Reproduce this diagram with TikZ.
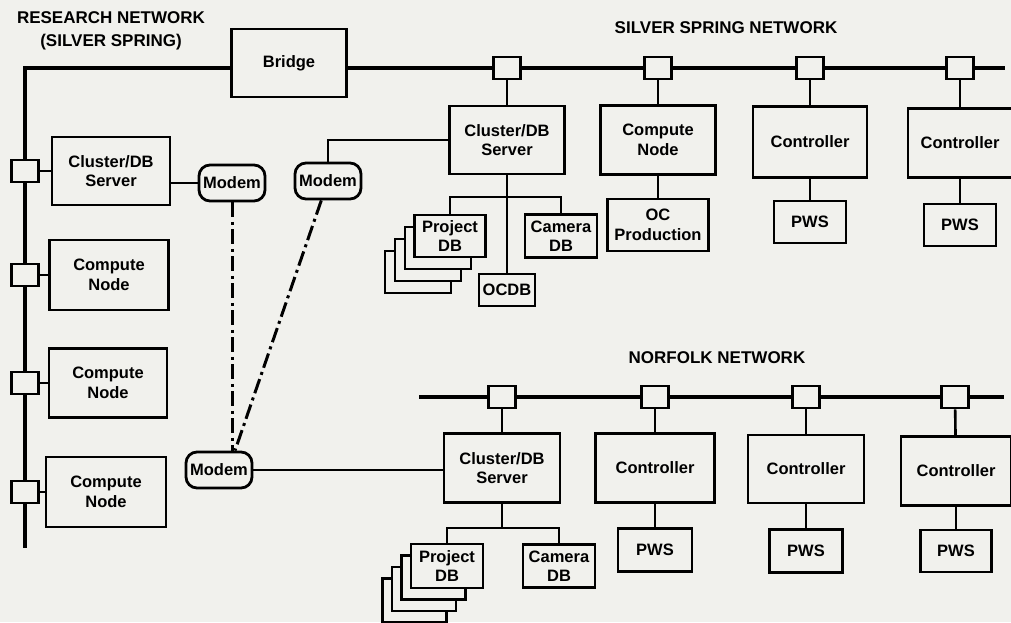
\documentclass[tikz,border=0pt]{standalone}
\usepackage{fontspec}
\setmainfont{Liberation Sans}
\definecolor{paper}{RGB}{241,241,237}
\begin{document}
\begin{tikzpicture}[x=1pt,y=-1pt,line join=miter,
  every node/.style={font=\bfseries\fontsize{16.5}{19.5}\selectfont,inner sep=2pt},
  box/.style={draw,line width=2.8pt,fill=paper,align=center},
  tap/.style={draw,line width=2.8pt,fill=paper,minimum width=27,minimum height=22},
  modem/.style={draw,line width=2.8pt,fill=paper,rounded corners=11pt,minimum width=66,minimum height=36,inner sep=1pt},
  bus/.style={line width=3.6pt},
  link/.style={line width=2.6pt},
  dial/.style={line width=3pt,dash pattern=on 15pt off 4.5pt on 3pt off 4.5pt},
  title/.style={font=\bfseries\fontsize{17}{23}\selectfont,align=center}]
  \path[use as bounding box,fill=paper] (0,0) rectangle (1011,622);
  % research network
  \node[title] (rtitle) at (111,31) {RESEARCH NETWORK\\(SILVER SPRING)};
  \node[box,minimum width=115,minimum height=68] (bridge) at (289,63) {Bridge};
  \coordinate (rtop) at (25,68);
  \coordinate (rbot) at (25,548);
  \node[tap] (rt1) at (25,171) {};
  \node[tap] (rt2) at (25,275) {};
  \node[tap] (rt3) at (25,383) {};
  \node[tap] (rt4) at (25,492) {};
  \draw[bus] (bridge.west |- rtop) -- (rtop) -- (rt1) -- (rt2) -- (rt3) -- (rt4) -- (rbot);
  \node[box,minimum width=118,minimum height=68] (rcl) at (111,171) {Cluster/DB\\Server};
  \node[box,minimum width=119,minimum height=70] (rcn1) at (109,275) {Compute\\Node};
  \node[box,minimum width=118,minimum height=69] (rcn2) at (108,383) {Compute\\Node};
  \node[box,minimum width=120,minimum height=70] (rcn3) at (106,492) {Compute\\Node};
  \draw[link] (rt1) -- (rcl);
  \draw[link] (rt2) -- (rcn1);
  \draw[link] (rt3) -- (rcn2);
  \draw[link] (rt4) -- (rcn3);
  % modems
  \node[modem] (m1) at (232,183) {Modem};
  \node[modem] (m2) at (328,181) {Modem};
  \node[modem] (m3) at (219,470) {Modem};
  \draw[link] (rcl.east |- m1) -- (m1);
  \draw[dial] (m1) -- (m1 |- m3.north);
  \draw[dial] (m2) -- ([xshift=16pt]m3.north);
  % silver spring network
  \node[title] (sstitle) at (726,28) {SILVER SPRING NETWORK};
  \coordinate (ssend) at (1005,68);
  \node[tap] (st1) at (507,68) {};
  \node[tap] (st2) at (658,68) {};
  \node[tap] (st3) at (810,68) {};
  \node[tap] (st4) at (960,68) {};
  \draw[bus] (bridge.east |- rtop) -- (st1) -- (st2) -- (st3) -- (st4) -- (ssend);
  \node[box,minimum width=115,minimum height=68] (sscl) at (507,140) {Cluster/DB\\Server};
  \node[box,minimum width=115,minimum height=69] (sscn) at (658,140) {Compute\\Node};
  \node[box,minimum width=101,minimum height=52] (ssoc) at (658,225) {OC\\Production};
  \node[box,minimum width=114,minimum height=71] (ssct1) at (810,142) {Controller};
  \node[box,minimum width=104,minimum height=69] (ssct2) at (960,143) {Controller};
  \node[box,minimum width=72,minimum height=42] (sspws1) at (810,222) {PWS};
  \node[box,minimum width=72,minimum height=42] (sspws2) at (960,225) {PWS};
  \foreach \k in {3,2,1}
    \node[box,minimum width=66,minimum height=42] (sspdb\k) at ({448-10*\k},{236+12*\k}) {};
  \node[box,minimum width=71,minimum height=42] (sspdb) at (450,236) {Project\\DB};
  \node[box,minimum width=72,minimum height=43] (sscam) at (561,236) {Camera\\DB};
  \node[box,minimum width=56,minimum height=32,inner sep=1pt] (ssocdb) at (507,290) {OCDB};
  \coordinate (ssbar) at (507,197);
  \draw[link] (st1) -- (sscl);
  \draw[link] (st2) -- (sscn);
  \draw[link] (st3) -- (ssct1);
  \draw[link] (st4) -- (ssct2);
  \draw[link] (sscn) -- (ssoc);
  \draw[link] (ssct1) -- (sspws1);
  \draw[link] (ssct2) -- (sspws2);
  \draw[link] (sscl) -- (ssocdb);
  \draw[link] (sspdb.north) |- (ssbar) -| (sscam.north);
  \draw[link] (m2) |- (sscl);
  % norfolk network
  \node[title] (nftitle) at (717,358) {NORFOLK NETWORK};
  \coordinate (nfstart) at (419,397);
  \coordinate (nfend) at (1004,397);
  \node[tap] (nt1) at (502,397) {};
  \node[tap] (nt2) at (655,397) {};
  \node[tap] (nt3) at (806,397) {};
  \node[tap] (nt4) at (955,397) {};
  \draw[bus] (nfstart) -- (nt1) -- (nt2) -- (nt3) -- (nt4) -- (nfend);
  \node[box,minimum width=116,minimum height=69] (nfcl) at (502,468) {Cluster/DB\\Server};
  \node[box,minimum width=119,minimum height=69] (nfct1) at (655,468) {Controller};
  \node[box,minimum width=116,minimum height=68] (nfct2) at (806,469) {Controller};
  \node[box,minimum width=110,minimum height=69] (nfct3) at (956,471) {Controller};
  \node[box,minimum width=74,minimum height=43] (nfpws1) at (655,550) {PWS};
  \node[box,minimum width=73,minimum height=43] (nfpws2) at (806,551) {PWS};
  \node[box,minimum width=71,minimum height=42] (nfpws3) at (956,551) {PWS};
  \foreach \k in {3,2,1}
    \node[box,minimum width=64,minimum height=44] (nfpdb\k) at ({443-9.5*\k},{566+11.5*\k}) {};
  \node[box,minimum width=72,minimum height=44] (nfpdb) at (447,566) {Project\\DB};
  \node[box,minimum width=72,minimum height=43] (nfcam) at (559,566) {Camera\\DB};
  \coordinate (nfbar) at (502,528);
  \draw[link] (nt1) -- (nfcl);
  \draw[link] (nt2) -- (nfct1);
  \draw[link] (nt3) -- (nfct2);
  \draw[link] (nt4) -- (nfct3);
  \draw[link] (nfct1) -- (nfpws1);
  \draw[link] (nfct2) -- (nfpws2);
  \draw[link] (nfct3) -- (nfpws3);
  \draw[link] (nfcl) -- (nfbar);
  \draw[link] (nfpdb.north) |- (nfbar) -| (nfcam.north);
  \draw[link] (m3) -- (nfcl.west |- m3);
\end{tikzpicture}
\end{document}
